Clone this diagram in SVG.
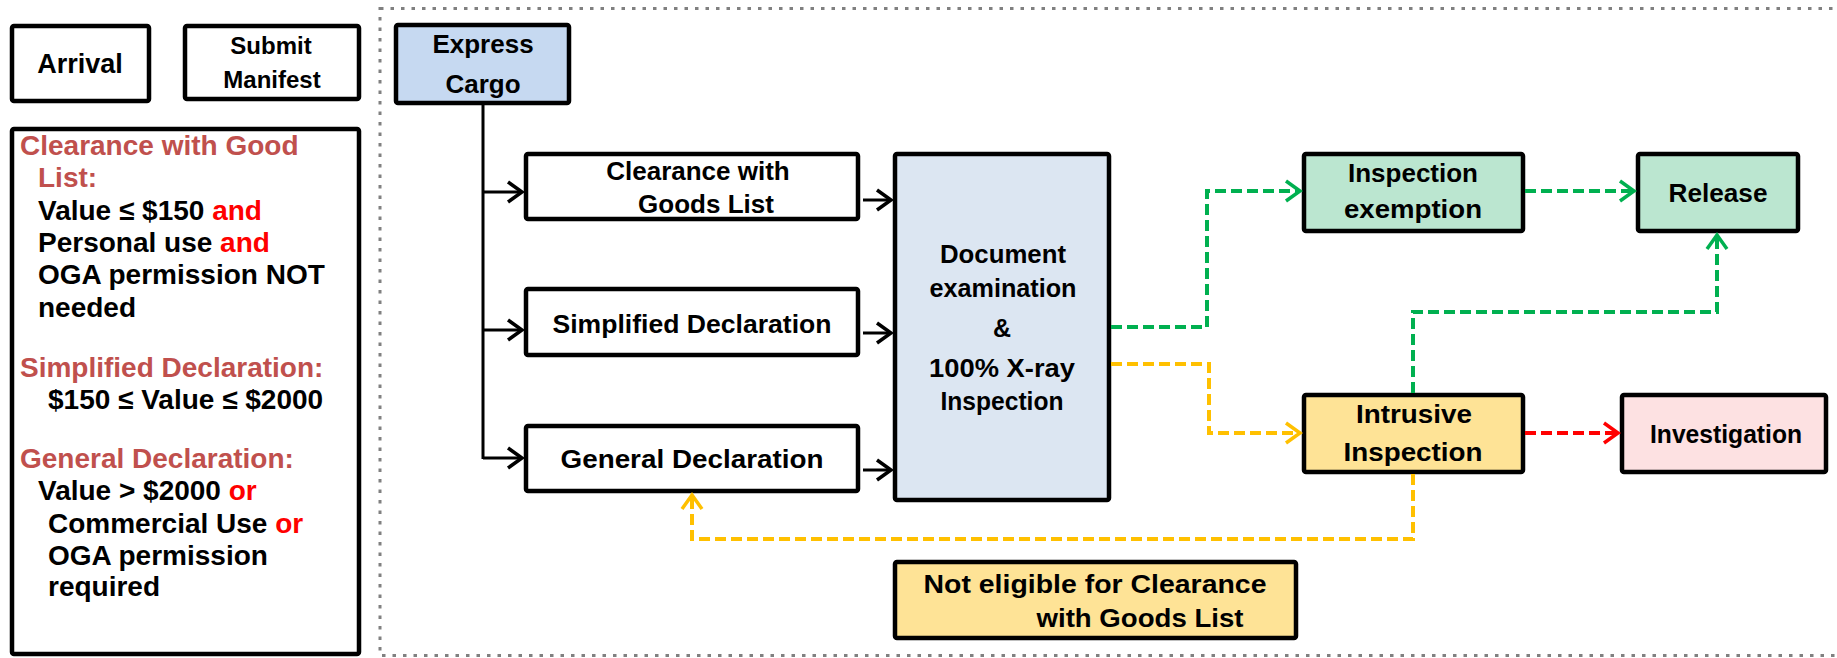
<svg xmlns="http://www.w3.org/2000/svg" width="1837" height="658" viewBox="0 0 1837 658">
<style>
  text { font-family: "Liberation Sans", Arial, sans-serif; font-weight: bold; fill: #000; }
  .box { stroke: #000; stroke-width: 4.5; }
  .w { fill: #fff; }
  .blue { fill: #C6D9F1; }
  .doc { fill: #DCE6F2; }
  .green { fill: #BBE6D0; }
  .yellow { fill: #FEE396; }
  .pink { fill: #FDE1E2; }
  .hdr { fill: #C0504D; }
  .red { fill: #FF0000; }
  .c { text-anchor: middle; }
  .blk { fill: none; stroke: #000; stroke-width: 3; }
  .dg { fill: none; stroke: #00B050; stroke-width: 4; stroke-dasharray: 11 5; }
  .dy { fill: none; stroke: #FFC000; stroke-width: 4; stroke-dasharray: 11 5; }
  .dr { fill: none; stroke: #FF0000; stroke-width: 4; stroke-dasharray: 11 5; }
</style>
<defs>
  <marker id="aK" markerUnits="userSpaceOnUse" markerWidth="24" markerHeight="26" refX="17" refY="12" orient="auto">
    <path d="M3,2 L17,12 L3,22" fill="none" stroke="#000" stroke-width="3.5"/>
  </marker>
  <marker id="aG" markerUnits="userSpaceOnUse" markerWidth="24" markerHeight="26" refX="17" refY="12" orient="auto">
    <path d="M3,2 L17,12 L3,22" fill="none" stroke="#00B050" stroke-width="3.5"/>
  </marker>
  <marker id="aY" markerUnits="userSpaceOnUse" markerWidth="24" markerHeight="26" refX="17" refY="12" orient="auto">
    <path d="M3,2 L17,12 L3,22" fill="none" stroke="#FFC000" stroke-width="3.5"/>
  </marker>
  <marker id="aR" markerUnits="userSpaceOnUse" markerWidth="24" markerHeight="26" refX="17" refY="12" orient="auto">
    <path d="M3,2 L17,12 L3,22" fill="none" stroke="#FF0000" stroke-width="3.5"/>
  </marker>
</defs>

<rect id="frame" x="380" y="8.5" width="1480" height="647" fill="none" stroke="#808080" stroke-width="3" stroke-dasharray="3.5 7"/>

<g id="arrival">
  <rect class="box w" x="12" y="26" width="137" height="75" rx="2"/>
  <text class="c" x="80" y="73" font-size="27">Arrival</text>
</g>
<g id="submit-manifest">
  <rect class="box w" x="185" y="26" width="174" height="73" rx="2"/>
  <text class="c" x="271" y="54" font-size="24">Submit</text>
  <text class="c" x="272" y="88" font-size="24">Manifest</text>
</g>

<g id="legend">
  <rect class="box w" x="12" y="129" width="347" height="525" rx="2"/>
  <g font-size="28">
    <text class="hdr" x="20" y="155">Clearance with Good</text>
    <text class="hdr" x="38" y="187">List:</text>
    <text x="38" y="220">Value ≤ $150 <tspan class="red">and</tspan></text>
    <text x="38" y="252">Personal use <tspan class="red">and</tspan></text>
    <text x="38" y="284">OGA permission NOT</text>
    <text x="38" y="317">needed</text>
    <text class="hdr" x="20" y="377">Simplified Declaration:</text>
    <text x="48" y="409">$150 ≤ Value ≤ $2000</text>
    <text class="hdr" x="20" y="468">General Declaration:</text>
    <text x="38" y="500">Value &gt; $2000 <tspan class="red">or</tspan></text>
    <text x="48" y="533">Commercial Use <tspan class="red">or</tspan></text>
    <text x="48" y="565">OGA permission</text>
    <text x="48" y="596">required</text>
  </g>
</g>

<g id="express-cargo">
  <rect class="box blue" x="396" y="25" width="173" height="78" rx="2"/>
  <text class="c" x="483" y="53" font-size="26">Express</text>
  <text class="c" x="483" y="93" font-size="26">Cargo</text>
</g>

<g id="clearance-goods-list">
  <rect class="box w" x="526" y="154" width="332" height="65" rx="2"/>
  <text class="c" x="698" y="180" font-size="26">Clearance with</text>
  <text class="c" x="706" y="213" font-size="26">Goods List</text>
</g>
<g id="simplified-declaration">
  <rect class="box w" x="526" y="289" width="332" height="66" rx="2"/>
  <text class="c" x="692" y="333" font-size="26" textLength="279" lengthAdjust="spacingAndGlyphs">Simplified Declaration</text>
</g>
<g id="general-declaration">
  <rect class="box w" x="526" y="426" width="332" height="65" rx="2"/>
  <text class="c" x="692" y="468" font-size="26" textLength="263" lengthAdjust="spacingAndGlyphs">General Declaration</text>
</g>

<g id="document-examination">
  <rect class="box doc" x="895" y="154" width="214" height="346" rx="2"/>
  <text class="c" x="1003" y="263" font-size="25" textLength="126" lengthAdjust="spacingAndGlyphs">Document</text>
  <text class="c" x="1003" y="297" font-size="25" textLength="147" lengthAdjust="spacingAndGlyphs">examination</text>
  <text class="c" x="1002" y="337" font-size="25">&amp;</text>
  <text class="c" x="1002" y="377" font-size="25" textLength="146" lengthAdjust="spacingAndGlyphs">100% X-ray</text>
  <text class="c" x="1002" y="410" font-size="25" textLength="123" lengthAdjust="spacingAndGlyphs">Inspection</text>
</g>

<g id="inspection-exemption">
  <rect class="box green" x="1304" y="154" width="219" height="77" rx="2"/>
  <text class="c" x="1413" y="182" font-size="25" textLength="130" lengthAdjust="spacingAndGlyphs">Inspection</text>
  <text class="c" x="1413" y="218" font-size="25" textLength="138" lengthAdjust="spacingAndGlyphs">exemption</text>
</g>
<g id="release">
  <rect class="box green" x="1638" y="154" width="160" height="77" rx="2"/>
  <text class="c" x="1718" y="202" font-size="26" textLength="99" lengthAdjust="spacingAndGlyphs">Release</text>
</g>
<g id="intrusive-inspection">
  <rect class="box yellow" x="1304" y="395" width="219" height="77" rx="2"/>
  <text class="c" x="1414" y="423" font-size="26" textLength="116" lengthAdjust="spacingAndGlyphs">Intrusive</text>
  <text class="c" x="1413" y="461" font-size="26" textLength="139" lengthAdjust="spacingAndGlyphs">Inspection</text>
</g>
<g id="investigation">
  <rect class="box pink" x="1622" y="395" width="204" height="77" rx="2"/>
  <text class="c" x="1726" y="443" font-size="26" textLength="152" lengthAdjust="spacingAndGlyphs">Investigation</text>
</g>
<g id="not-eligible">
  <rect class="box yellow" x="895" y="562" width="401" height="76" rx="2"/>
  <text class="c" x="1095" y="593" font-size="26" textLength="343" lengthAdjust="spacingAndGlyphs">Not eligible for Clearance</text>
  <text class="c" x="1140" y="627" font-size="26" textLength="207" lengthAdjust="spacingAndGlyphs">with Goods List</text>
</g>

<g id="connectors">
  <path class="blk" d="M483,104 V459"/>
  <path class="blk" d="M483,192 H522" marker-end="url(#aK)"/>
  <path class="blk" d="M483,330 H522" marker-end="url(#aK)"/>
  <path class="blk" d="M483,458 H522" marker-end="url(#aK)"/>
  <path class="blk" d="M863,200 H891" marker-end="url(#aK)"/>
  <path class="blk" d="M863,333 H891" marker-end="url(#aK)"/>
  <path class="blk" d="M863,470 H891" marker-end="url(#aK)"/>
  <path class="dg" d="M1111,327 H1207 V191 H1300" marker-end="url(#aG)"/>
  <path class="dg" d="M1525,191 H1634" marker-end="url(#aG)"/>
  <path class="dg" d="M1413,393 V312 H1717 V235" marker-end="url(#aG)"/>
  <path class="dy" d="M1111,364 H1209 V433 H1300" marker-end="url(#aY)"/>
  <path class="dy" d="M1413,474 V539 H692 V495" marker-end="url(#aY)"/>
  <path class="dr" d="M1525,433 H1618" marker-end="url(#aR)"/>
</g>
</svg>
